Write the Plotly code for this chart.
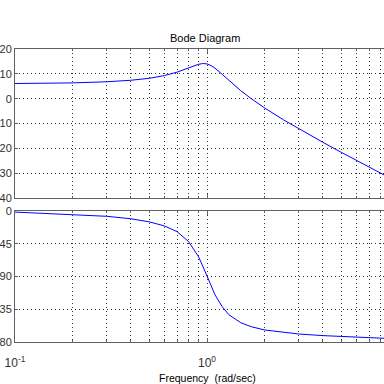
import plotly.graph_objects as go

# Frequencies (rad/sec) and values
freq = [0.1, 0.2, 0.3, 0.4, 0.5, 0.6, 0.7, 0.8, 0.9, 0.95, 1.0, 1.05, 1.1, 1.2, 1.3,
        1.5, 1.7, 2.0, 2.5, 3.0, 4.0, 5.0, 6.0, 7.0, 8.0, 8.5]
mag_db = [6.1, 6.35, 6.8, 7.4, 8.2, 9.3, 10.7, 12.4, 13.8, 14.15, 14.0, 13.3, 12.3, 9.8, 7.3,
          3.2, 0.0, -3.8, -8.5, -12.1, -17.5, -21.6, -24.9, -27.6, -30.0, -31.0]
phase_deg = [-1.5, -4.5, -7.3, -10.6, -14.9, -20.5, -28.5, -41.8, -62.0, -75.5, -90.0, -103.5,
             -115.0, -131.5, -142.5, -153.5, -159.0, -163.5, -167.0, -169.0, -171.2, -172.6,
             -173.5, -174.2, -174.7, -175.0]

major_vals = [0.1, 1, 10]
major_text = ["10<sup>-1</sup>", "10<sup>0</sup>", "10<sup>1</sup>"]
minor_vals = [0.2, 0.3, 0.4, 0.5, 0.6, 0.7, 0.8, 0.9, 2, 3, 4, 5, 6, 7, 8, 9]
mag_ticks = [20, 10, 0, -10, -20, -30, -40]
phase_ticks = [0, -45, -90, -135, -180]

W = H = 384
L = 15
top0, top1 = 49, 198
bot0, bot1 = 211, 342
xr = [-1, -1 + (W - L) / 192.0]

fig = go.Figure()
fig.add_trace(go.Scatter(x=freq, y=mag_db, mode="lines", line=dict(color="#0000ff", width=1),
                         xaxis="x", yaxis="y", showlegend=False, hoverinfo="skip"))
fig.add_trace(go.Scatter(x=freq, y=phase_deg, mode="lines", line=dict(color="#0000ff", width=1),
                         xaxis="x2", yaxis="y2", showlegend=False, hoverinfo="skip"))

axcol = "#606060"
gridcol = "#303030"
dash = "1px,3px"
font = dict(family="Liberation Sans, Arial", size=11, color="#303030")
xfont = dict(family="Liberation Sans, Arial", size=12, color="#303030")
minor = dict(tickvals=minor_vals, showgrid=True, gridcolor=gridcol, griddash=dash, gridwidth=1,
             ticks="inside", ticklen=2, tickcolor=axcol)
common_x = dict(type="log", range=xr, tickvals=major_vals, ticktext=major_text, showgrid=True,
                gridcolor=gridcol, griddash=dash, gridwidth=1, showline=True, linecolor=axcol,
                linewidth=1, mirror="allticks", ticks="inside", ticklen=4, tickcolor=axcol,
                zeroline=False, tickfont=xfont, domain=[0, 1], minor=minor)
common_y = dict(showgrid=True, gridcolor=gridcol, griddash=dash, gridwidth=1,
                showline=True, linecolor=axcol, linewidth=1, mirror=False,
                ticks="inside", ticklen=3, tickcolor=axcol, zeroline=False, tickfont=font)

fig.update_layout(
    width=W, height=H, margin=dict(l=L, r=0, t=0, b=0, autoexpand=False),
    paper_bgcolor="white", plot_bgcolor="white", hovermode=False,
    xaxis=dict(common_x, anchor="y", showticklabels=False),
    yaxis=dict(common_y, domain=[1 - top1 / H, 1 - top0 / H], range=[-40, 20],
               tickvals=mag_ticks, ticktext=[str(v) for v in mag_ticks]),
    xaxis2=dict(common_x, anchor="y2", ticklabelstandoff=10),
    yaxis2=dict(common_y, domain=[1 - bot1 / H, 1 - bot0 / H], range=[-180, 0],
                tickvals=phase_ticks, ticktext=[str(v) for v in phase_ticks]),
    annotations=[
        dict(text="Bode Diagram", x=(205 - L) / (W - L), y=1 - 38 / H, xref="paper", yref="paper",
             showarrow=False, font=dict(family="Liberation Sans, Arial", size=11, color="black"),
             xanchor="center", yanchor="middle"),
        dict(text="Frequency  (rad/sec)", x=(207 - L) / (W - L), y=1 - 378 / H, xref="paper",
             yref="paper", showarrow=False,
             font=dict(family="Liberation Sans, Arial", size=10.5, color="black"),
             xanchor="center", yanchor="middle"),
    ],
)

fig.write_html("out.html", config={"displayModeBar": False, "staticPlot": True},
               post_script="document.body.style.margin='0';document.body.style.overflow='hidden';")
